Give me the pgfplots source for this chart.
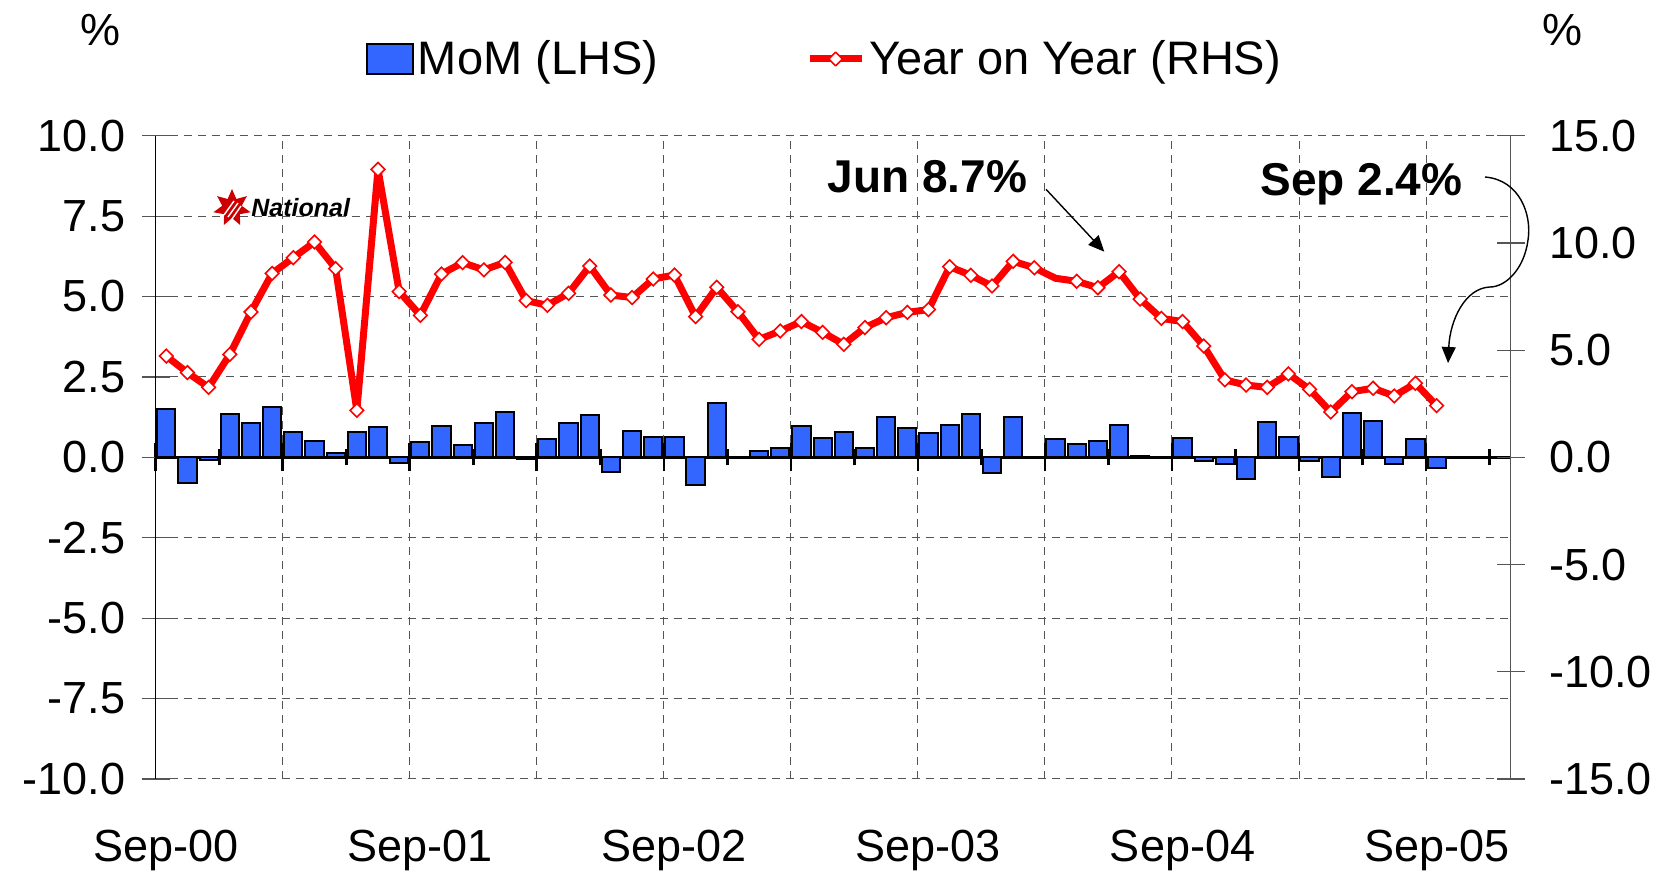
\documentclass[border=0pt]{standalone}
\usepackage{fontspec}
\setmainfont{Liberation Sans}
\usepackage{pgfplots}
\usepackage{pgfplotstable}
\pgfplotsset{compat=1.18}
\usetikzlibrary{arrows.meta,shapes.geometric}
\definecolor{barblue}{HTML}{3366FF}
\definecolor{gridgray}{HTML}{555555}

\pgfplotstableread{
i mom
0 1.51
1 -0.81
2 -0.08
3 1.34
4 1.08
5 1.57
6 0.79
7 0.51
8 0.12
9 0.79
10 0.93
11 -0.17
12 0.48
13 0.97
14 0.39
15 1.06
16 1.40
17 -0.05
18 0.57
19 1.06
20 1.32
21 -0.45
22 0.82
23 0.64
24 0.63
25 -0.86
26 1.70
27 0.02
28 0.21
29 0.28
30 0.98
31 0.59
32 0.78
33 0.30
34 1.24
35 0.91
36 0.77
37 0.99
38 1.34
39 -0.48
40 1.26
41 0.00
42 0.57
43 0.40
44 0.51
45 1.00
46 0.03
47 0.00
48 0.59
49 -0.10
50 -0.22
51 -0.67
52 1.10
53 0.64
54 -0.10
55 -0.60
56 1.39
57 1.13
58 -0.21
59 0.56
60 -0.32
}\momtable

\pgfplotstableread{
i yoy
0 4.72
1 3.95
2 3.26
3 4.80
4 6.78
5 8.58
6 9.31
7 10.04
8 8.80
9 2.19
10 13.43
11 7.73
12 6.62
13 8.55
14 9.08
15 8.74
16 9.09
17 7.31
18 7.09
19 7.65
20 8.92
21 7.57
22 7.45
23 8.32
24 8.50
25 6.56
26 7.93
27 6.79
28 5.50
29 5.89
30 6.33
31 5.83
32 5.27
33 6.05
34 6.51
35 6.76
36 6.89
37 8.89
38 8.49
39 7.99
40 9.14
41 8.84
42 8.35
43 8.21
44 7.91
45 8.66
46 7.38
47 6.48
48 6.33
49 5.19
50 3.61
51 3.37
52 3.26
53 3.89
54 3.17
55 2.11
56 3.06
57 3.22
58 2.86
59 3.45
60 2.41
}\yoytable

\begin{document}
\begin{tikzpicture}
\useasboundingbox (-77.85pt,-47.55pt) rectangle (758.65pt,389.45pt);
\begin{axis}[
  at={(0pt,0pt)}, anchor=south west,
  scale only axis, width=677.5pt, height=321.6pt,
  xmin=-0.5, xmax=63.5, ymin=-10, ymax=10,
  axis y line*=left, axis x line*=middle,
  hide obscured x ticks=false, hide obscured y ticks=false,
  ytick={-10,-7.5,...,10},
  yticklabels={-10.0,-7.5,-5.0,-2.5,0.0,2.5,5.0,7.5,10.0},
  xtick={-0.5,5.5,...,59.5}, xticklabels={},
  minor xtick={2.5,8.5,...,62.5},
  ymajorgrids, xmajorgrids,
  grid style={gridgray, line width=0.5pt, dash pattern=on 4pt off 3pt},
  tick align=center, major tick length=14pt, minor tick length=8pt,
  xtick style={black, line width=1.3pt},
  ytick style={gridgray, line width=0.6pt},
  x axis line style={black, line width=1.7pt},
  y axis line style={black, line width=0.6pt},
  tick label style={font=\fontsize{22.5}{27}\selectfont},
  yticklabel style={anchor=east, inner sep=0pt, xshift=-8pt},
  extra x ticks={0,12,24,36,48,60},
  extra x tick labels={Sep-00,Sep-01,Sep-02,Sep-03,Sep-04,Sep-05},
  extra x tick style={major tick length=0pt, grid=none,
    xticklabel style={anchor=base, yshift=-202.2pt}},
]
\addplot[ybar, bar width=0.86, fill=barblue, draw=black, line width=1pt]
  table[x=i, y=mom] {\momtable};
\end{axis}
\begin{axis}[
  at={(0pt,0pt)}, anchor=south west,
  scale only axis, width=677.5pt, height=321.6pt,
  xmin=-0.5, xmax=63.5, ymin=-15, ymax=15,
  axis y line*=right, axis x line=none,
  ytick={-15,-10,...,15},
  yticklabels={-15.0,-10.0,-5.0,0.0,5.0,10.0,15.0},
  tick align=center, major tick length=14pt,
  ytick style={gridgray, line width=0.6pt},
  y axis line style={gridgray, line width=0.6pt},
  tick label style={font=\fontsize{22.5}{27}\selectfont},
  yticklabel style={anchor=west, inner sep=0pt, xshift=12pt},
  legend style={at={(0.4943,1.1193)}, anchor=center, draw=none, fill=none,
    font=\fontsize{23.5}{28}\selectfont, legend columns=2,
    /tikz/every even column/.append style={column sep=72pt}},
]
\addlegendimage{legend image code/.code={\draw[fill=barblue,draw=black,line width=1pt] (0pt,-7.5pt) rectangle (23pt,7.5pt);}}
\addlegendentry{MoM (LHS)}
\addplot[red, line width=3.5pt, line join=round, mark=square*, mark size=2.4pt,
  mark options={fill=white, draw=red, line width=0.8pt, rotate=45, line join=miter},
  mark indices={1,2,3,4,5,6,7,8,9,10,11,12,13,14,15,16,17,18,19,20,21,22,23,24,25,26,27,28,29,30,31,32,33,34,35,36,37,38,39,40,41,42,44,45,46,47,48,49,50,51,52,53,54,55,56,57,58,59,60,61},
  legend image code/.code={\draw[red,line width=3.5pt] (0pt,0pt) -- (26pt,0pt);
    \draw[red, fill=white, line width=0.8pt] (13pt,3.4pt) -- (16.4pt,0pt) -- (13pt,-3.4pt) -- (9.6pt,0pt) -- cycle;}]
  table[x=i, y=yoy] {\yoytable};
\addlegendentry{Year on Year (RHS)}
\end{axis}
\begin{scope}[shift={(-77.85pt,389.45pt)}, x=0.5pt, y=-0.5pt]
  \node[font=\fontsize{22.5}{27}\selectfont] at (101,30) {\%};
  \node[font=\fontsize{22.5}{27}\selectfont] at (1562.5,30) {\%};
  \node[font=\fontsize{23}{27}\selectfont\bfseries, anchor=base west, inner sep=0pt] at (827.3,192.7) {Jun 8.7\%};
  \node[font=\fontsize{23}{27}\selectfont\bfseries, anchor=base west, inner sep=0pt] at (1260,196) {Sep 2.4\%};
  \draw[black, line width=0.7pt, -{Triangle[length=8pt,width=7pt]}] (1046,189.3) -- (1104.3,251.7);
  \draw[black, line width=0.7pt, -{Triangle[length=8pt,width=7pt]}]
    (1485,177) .. controls (1520,180) and (1532,215) .. (1528,240)
    .. controls (1524,270) and (1505,287) .. (1490,287)
    .. controls (1465,288) and (1450,320) .. (1448,363);
  \node[star, star points=7, star point ratio=1.9, fill=red!80!black, draw=none, minimum size=19pt, inner sep=0pt] at (232,208) {};
  \draw[white, line width=0.7pt] (224,215) -- (234,201) (228,217) -- (238,203) (232,219) -- (241,206);
  \node[font=\fontsize{12.5}{14}\selectfont\bfseries\itshape, anchor=west, inner sep=0pt] at (251,208) {National};
\end{scope}
\end{tikzpicture}
\end{document}
